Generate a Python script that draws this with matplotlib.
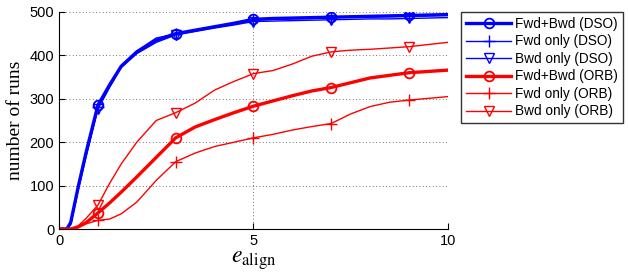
import matplotlib
matplotlib.use("Agg")
import matplotlib.pyplot as plt
import numpy as np

plt.rcParams["mathtext.fontset"] = "stix"

x = [0, 0.2, 0.3, 0.5, 0.7, 1, 1.3, 1.6, 2, 2.5, 3, 3.5, 4, 4.5, 5, 5.5, 6, 6.5, 7, 7.5, 8, 8.5, 9, 9.5, 10]

dso_fb  = [0, 0, 15, 100, 178, 285, 332, 375, 408, 435, 450, 458, 466, 474, 483, 485, 486, 487, 488, 489, 490, 491, 492, 493, 494]
dso_fwd = [0, 0, 12, 95, 172, 280, 330, 374, 410, 440, 449, 457, 465, 473, 481, 483, 484, 485, 487, 488, 489, 489, 490, 491, 492]
dso_bwd = [0, 0, 10, 92, 168, 276, 326, 372, 404, 430, 447, 455, 463, 470, 478, 479, 480, 481, 482, 483, 484, 484, 485, 486, 487]

orb_fb  = [0, 0, 0, 5, 15, 37, 60, 85, 120, 165, 210, 235, 252, 268, 283, 295, 307, 318, 326, 337, 348, 354, 360, 363, 366]
orb_fwd = [0, 0, 0, 5, 12, 20, 23, 35, 62, 112, 155, 175, 190, 200, 210, 218, 228, 236, 243, 265, 282, 292, 297, 301, 305]
orb_bwd = [0, 0, 0, 8, 25, 55, 105, 150, 200, 250, 268, 290, 320, 340, 358, 365, 380, 398, 408, 412, 414, 417, 420, 425, 430]

labels = ["Fwd+Bwd (DSO)", "Fwd only (DSO)", "Bwd only (DSO)",
          "Fwd+Bwd (ORB)", "Fwd only (ORB)", "Bwd only (ORB)"]

marker_x = [1, 3, 5, 7, 9]
mark_idx = [x.index(v) for v in marker_x]

fig = plt.figure(figsize=(6.28, 2.72), dpi=100)
ax = fig.add_axes([0.094, 0.158, 0.619, 0.798])

series = [
    (dso_fb, "#0000ff", 2.4, "o", 7),
    (dso_fwd, "#0000ff", 1.0, "+", 8),
    (dso_bwd, "#0000ff", 1.0, "v", 7),
    (orb_fb, "#ff0000", 2.4, "o", 7),
    (orb_fwd, "#ff0000", 1.0, "+", 8),
    (orb_bwd, "#ff0000", 1.0, "v", 7),
]
for (y, c, lw, m, ms), lab in zip(series, labels):
    ax.plot(x, y, color=c, lw=lw, marker=m, ms=ms, markevery=mark_idx,
            mfc="none", mec=c, mew=1.3 if lw > 2 else 1.0, label=lab)

ax.set_xlim(0, 10)
ax.set_ylim(0, 500)
ax.set_xticks([0, 5, 10])
ax.set_yticks([0, 100, 200, 300, 400, 500])
ax.grid(True, color="#444444", linestyle=(0, (1, 3)), linewidth=0.6)
for s in ["top", "right"]:
    ax.spines[s].set_visible(False)
ax.tick_params(direction="in", length=4, labelsize=10.5)
for lab in ax.get_xticklabels() + ax.get_yticklabels():
    lab.set_family("Liberation Sans")

ax.set_ylabel("number of runs", family="Liberation Serif", fontsize=14)
ax.set_xlabel(r"$e_{\mathrm{align}}$", fontsize=17, labelpad=0)

leg = ax.legend(loc="upper left", bbox_to_anchor=(1.035, 1.0), frameon=True,
                fancybox=False, edgecolor="black", handlelength=3.3,
                prop={"family": "Liberation Sans", "size": 9.8},
                labelspacing=0.26, borderpad=0.35, handletextpad=0.3,
                borderaxespad=0)
leg.get_frame().set_linewidth(1.0)

fig.savefig("out.png", dpi=100)
